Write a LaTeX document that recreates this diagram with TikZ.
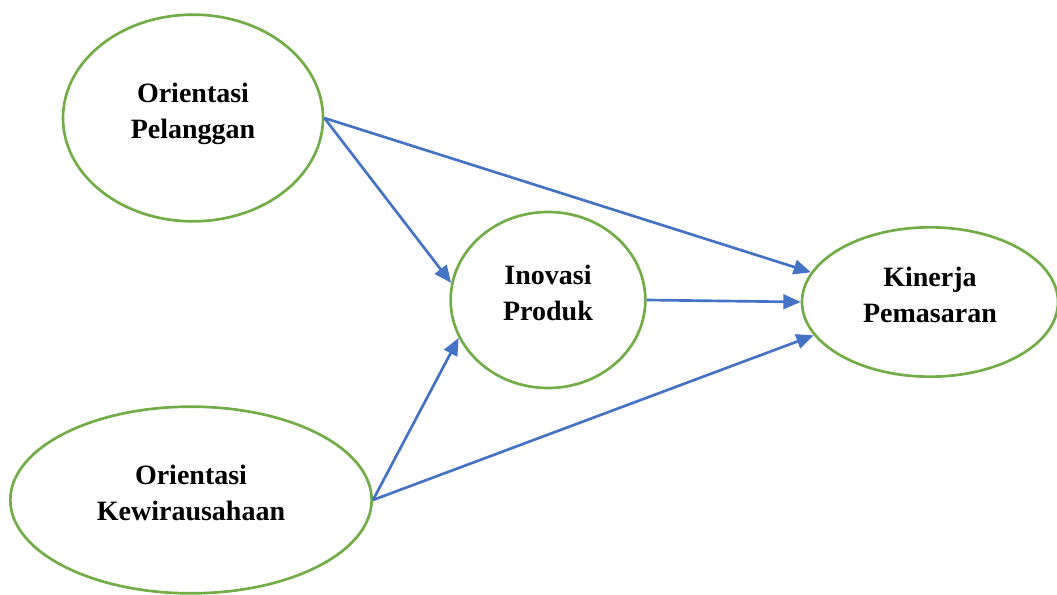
\documentclass[tikz,border=0pt]{standalone}
\usepackage{fontspec}
\setmainfont{Liberation Serif}
\usetikzlibrary{shapes.geometric, arrows.meta}

\definecolor{varGreen}{RGB}{112,173,71}
\definecolor{pathBlue}{RGB}{68,114,196}

\begin{document}
\begin{tikzpicture}[x=0.75pt,y=-0.75pt]

    % Define styles
    \tikzstyle{latent} = [ellipse, draw=varGreen, line width=2pt, inner sep=0pt, align=center, text depth=11pt, font=\fontsize{21}{27}\selectfont\bfseries]
    \tikzstyle{relation} = [-{Triangle[length=13pt,width=11pt]}, draw=pathBlue, fill=pathBlue, line width=2pt]

    \useasboundingbox (0,0) rectangle (1057,595);

    % Variables
    \node[latent, minimum width=195pt, minimum height=155pt] (pelanggan) at (193,118) {Orientasi\\Pelanggan};
    \node[latent, minimum width=146pt, minimum height=132pt] (inovasi) at (548,300) {Inovasi\\Produk};
    \node[latent, minimum width=192pt, minimum height=112pt] (kinerja) at (930,302) {Kinerja\\Pemasaran};
    \node[latent, minimum width=271pt, minimum height=140pt] (kewirausahaan) at (191,500) {Orientasi\\Kewirausahaan};

    % Paths
    \draw[relation] (pelanggan.east) -- (inovasi.170);
    \draw[relation] (pelanggan.east) -- (kinerja.166);
    \draw[relation] (inovasi.east) -- (kinerja.west);
    \draw[relation] (kewirausahaan.east) -- (inovasi.203);
    \draw[relation] (kewirausahaan.east) -- (kinerja.196);

\end{tikzpicture}
\end{document}
